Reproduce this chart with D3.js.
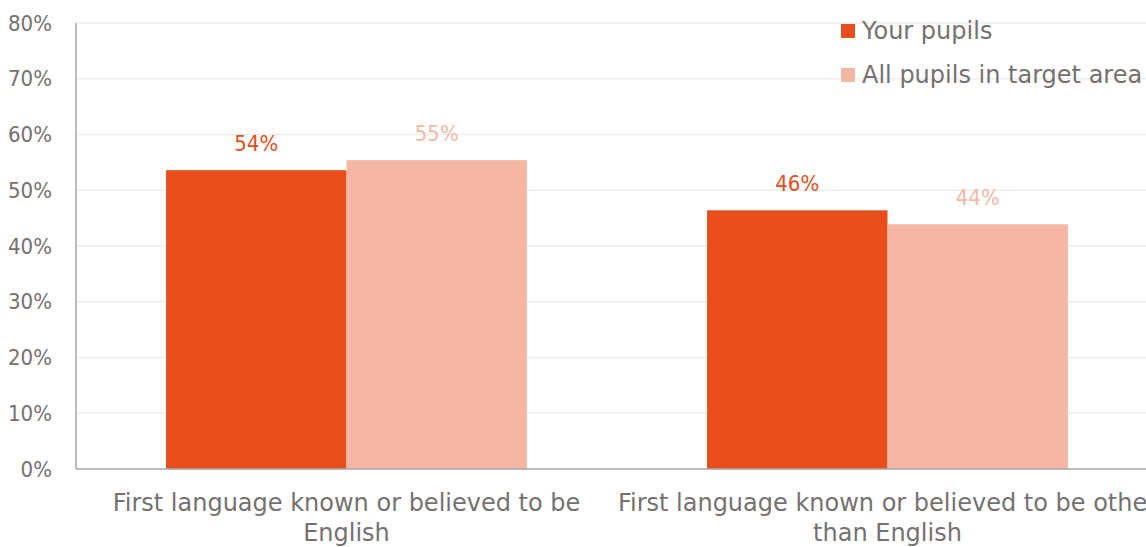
<!DOCTYPE html>
<html><head><meta charset="utf-8">
<script src="https://cdn.jsdelivr.net/npm/d3@7"></script>
<style>body{margin:0;background:#fff;overflow:hidden}svg{display:block;font-family:"DejaVu Sans",Verdana,sans-serif}.cond{font-family:"DejaVu Sans Condensed","DejaVu Sans",sans-serif;font-stretch:condensed}</style>
</head><body><svg id="c" width="1146" height="547"></svg>
<script>
const categories = [["First language known or believed to be", "English"], ["First language known or believed to be other", "than English"]];
const seriesNames = ["Your pupils", "All pupils in target area"];
const yourPupils = [53.6, 46.4];
const allPupils = [55.4, 43.9];
const valueLabels = [["54%", "46%"], ["55%", "44%"]];
const yTicks = [0, 10, 20, 30, 40, 50, 60, 70, 80];
const colors = ["#E84E1B", "#F5B7A4"];

(function () {
const svg = d3.select("#c");
const mLeft = 76, mRight = 1158, mTop = 23, mBottom = 469;
const x = d3.scaleBand().domain(d3.range(categories.length)).range([mLeft, mRight]).paddingInner(0.333).paddingOuter(0.1665);
const xs = d3.scaleBand().domain([0, 1]).range([0, x.bandwidth()]);
const y = d3.scaleLinear().domain([0, 80]).range([mBottom, mTop]);
const textCol = "#757171";

svg.append("g").selectAll("line").data(yTicks.slice(1)).join("line")
  .attr("x1", mLeft).attr("x2", 1146).attr("y1", d => y(d)).attr("y2", d => y(d))
  .attr("stroke", "#eeeeee").attr("stroke-width", 1.5);

svg.append("g").selectAll("text").data(yTicks).join("text").attr("class", "cond")
  .attr("x", 52).attr("y", d => y(d)).attr("dy", "0.35em").attr("text-anchor", "end")
  .attr("font-size", 22).attr("fill", textCol).text(d => d + "%");

const series = [yourPupils, allPupils];
series.forEach((vals, si) => {
  const g = svg.append("g");
  g.selectAll("rect").data(vals).join("rect")
    .attr("x", (d, i) => x(i) + xs(si)).attr("width", xs.bandwidth())
    .attr("y", d => y(d)).attr("height", d => mBottom - y(d)).attr("fill", colors[si]);
  g.selectAll("text").data(vals).join("text").attr("class", "cond")
    .attr("x", (d, i) => x(i) + xs(si) + xs.bandwidth() / 2)
    .attr("y", d => y(d) - 27).attr("dy", "0.35em").attr("text-anchor", "middle")
    .attr("font-size", 22).attr("fill", colors[si]).text((d, i) => valueLabels[si][i]);
});

svg.append("line").attr("x1", mLeft).attr("x2", mLeft).attr("y1", mTop).attr("y2", mBottom).attr("stroke", "#a6a6a6").attr("stroke-width", 1.5);
svg.append("line").attr("x1", mLeft).attr("x2", 1146).attr("y1", mBottom).attr("y2", mBottom).attr("stroke", "#a6a6a6").attr("stroke-width", 1.5);

categories.forEach((lines, i) => {
  const t = svg.append("text").attr("text-anchor", "middle").attr("font-size", 24).attr("fill", textCol);
  lines.forEach((ln, j) => t.append("tspan").attr("x", x(i) + x.bandwidth() / 2).attr("y", 503 + j * 30).attr("dy", "0.35em").text(ln));
});

seriesNames.forEach((n, i) => {
  const yy = 31 + i * 44;
  svg.append("rect").attr("x", 841).attr("y", yy - 7).attr("width", 14).attr("height", 14).attr("fill", colors[i]);
  svg.append("text").attr("x", 862).attr("y", yy).attr("dy", "0.35em").attr("font-size", 24).attr("fill", textCol).text(n);
});
})();
</script></body></html>
